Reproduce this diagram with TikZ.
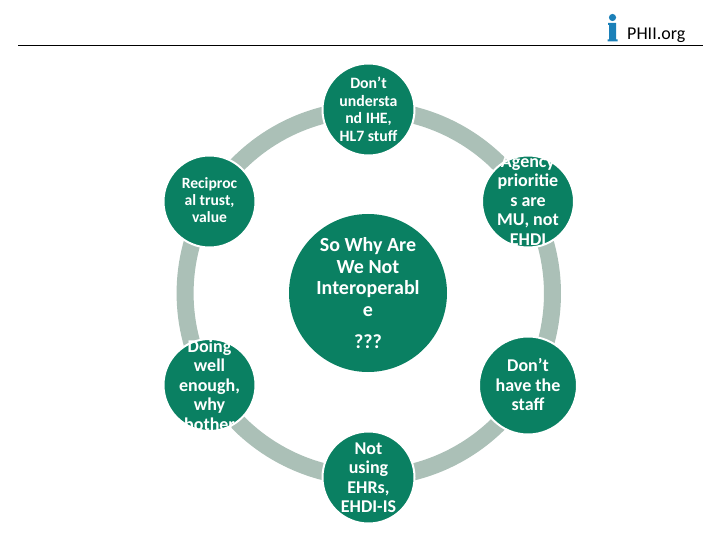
\documentclass[tikz,border=0pt]{standalone}
\usepackage{fontspec}
\setmainfont{Carlito}
\usetikzlibrary{backgrounds}
\definecolor{nodegreen}{HTML}{0A8062}
\definecolor{ringgrey}{HTML}{ABC0B7}
\definecolor{logoblue}{HTML}{1B80B8}
\tikzset{
  cnode/.style={circle,fill=nodegreen,draw=white,line width=2pt,inner sep=0pt,minimum size=92pt},
  lbl/.style={text=white,align=center,inner sep=0pt,font=\bfseries},
  ringarc/.style={draw=ringgrey,line width=17pt,bend right=30,looseness=0.91},
}
\begin{document}
\begin{tikzpicture}[x=1pt,y=-1pt]
\useasboundingbox (0,0) rectangle (720,540);
% nodes
\node[cnode] (top) at (368.5,109.5) {};
\node[lbl,font=\bfseries\fontsize{15.8}{17.5}\selectfont] (topt) at (368.5,109.5) {Don’t\\understa\\nd IHE,\\HL7 stuff};
\node[cnode] (ru) at (528,201.5) {};
\node[lbl,font=\bfseries\fontsize{18}{19.5}\selectfont] (rut) at (528,200.5) {Agency\\prioritie\\s are\\MU, not\\EHDI};
\node[cnode,minimum size=98pt] (rl) at (528,385.5) {};
\node[lbl,font=\bfseries\fontsize{18}{19.5}\selectfont] (rlt) at (528,385) {Don’t\\have the\\staff};
\node[cnode] (bot) at (368.5,477.5) {};
\node[lbl,font=\bfseries\fontsize{18}{19.5}\selectfont] (bott) at (368.5,477.5) {Not\\using\\EHRs,\\EHDI-IS};
\node[cnode] (ll) at (209.5,385) {};
\node[lbl,font=\bfseries\fontsize{18}{19.5}\selectfont] (llt) at (209.5,385) {Doing\\well\\enough,\\why\\bother};
\node[cnode] (lu) at (209.5,201.5) {};
\node[lbl,font=\bfseries\fontsize{15.6}{17}\selectfont] (lut) at (209.5,200.5) {Reciproc\\al trust,\\value};
\node[cnode,minimum size=158pt,line width=0pt,draw=none] (mid) at (368,293) {};
\node[lbl,font=\bfseries\fontsize{20}{21.7}\selectfont] (midt) at (368,293) {So Why Are\\We Not\\Interoperabl\\e\\[10pt]???};
% ring segments
\begin{scope}[on background layer]
\fill[white] (0,0) rectangle (720,540);
\draw[ringarc] (top.center) to (lu.center);
\draw[ringarc] (lu.center) to (ll.center);
\draw[ringarc] (ll.center) to (bot.center);
\draw[ringarc] (bot.center) to (rl.center);
\draw[ringarc] (rl.center) to (ru.center);
\draw[ringarc] (ru.center) to (top.center);
\end{scope}
% header
\coordinate (ruleL) at (18,46);
\coordinate (ruleR) at (703,46);
\draw[black,line width=1pt] (ruleL) -- (ruleR);
\fill[logoblue] (612.5,17.5) circle (3.6);
\fill[logoblue] (608,23) -- (616,23) -- (616,39.5) -- (617.5,39.5) -- (617.5,41.5) -- (607.5,41.5) -- (607.5,39.5) -- (609,39.5) -- (609,25) -- (608,25) -- cycle;
\node[anchor=base west,inner sep=0pt,font=\fontsize{18}{20}\selectfont,text=black] (logo) at (627,40) {PHII.org};
\end{tikzpicture}
\end{document}
